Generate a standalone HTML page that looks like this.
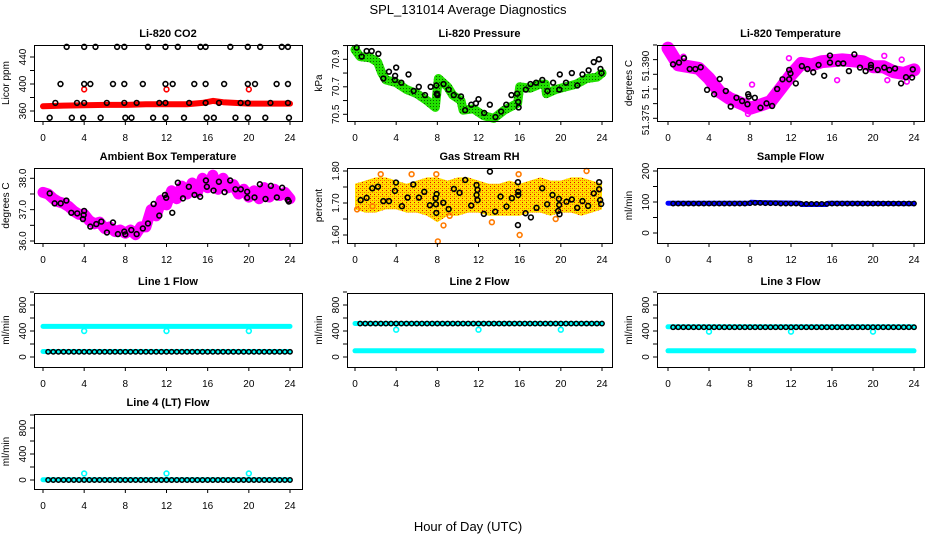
<!DOCTYPE html>
<html><head><meta charset="utf-8">
<style>
html,body{margin:0;padding:0;background:#fff;}
svg{display:block;font-family:"Liberation Sans",sans-serif;}
</style></head>
<body>
<svg id="chart" width="936" height="540" viewBox="0 0 936 540" xmlns="http://www.w3.org/2000/svg">
<defs>
<pattern id="rhpat" width="4" height="4" patternUnits="userSpaceOnUse">
<rect width="4" height="4" fill="#ffe000"/><rect x="0" y="0" width="1" height="1" fill="#ff6000"/><rect x="2" y="2" width="1" height="1" fill="#e00000"/><rect x="2" y="0" width="1" height="1" fill="#ff9000"/>
</pattern>
<pattern id="grpat" width="3" height="3" patternUnits="userSpaceOnUse">
<rect width="3" height="3" fill="#22e000"/><rect x="1" y="1" width="1" height="1" fill="#0a6000"/>
</pattern>
</defs>
<text x="468" y="14" text-anchor="middle" font-size="13">SPL_131014  Average Diagnostics</text>
<text x="468" y="531" text-anchor="middle" font-size="13">Hour of Day (UTC)</text>
<g id="plots"></g>
</svg>
<script>
// ---------- DATA ----------
const xTicks = [0,4,8,12,16,20,24];
const halfHours = [0.5,1,1.5,2,2.5,3,3.5,4,4.5,5,5.5,6,6.5,7,7.5,8,8.5,9,9.5,10,10.5,11,11.5,12,12.5,13,13.5,14,14.5,15,15.5,16,16.5,17,17.5,18,18.5,19,19.5,20,20.5,21,21.5,22,22.5,23,23.5,24];
const bandHours = [0,0.5,1,1.5,2,2.5,3,3.5,4,4.5,5,5.5,6,6.5,7,7.5,8,8.5,9,9.5,10,10.5,11,11.5,12,12.5,13,13.5,14,14.5,15,15.5,16,16.5,17,17.5,18,18.5,19,19.5,20,20.5,21,21.5,22,22.5,23,23.5,24];
const hourly = [0,1,2,3,4,5,6,7,8,9,10,11,12,13,14,15,16,17,18,19,20,21,22,23,24];
const calHours = [4,12,20];

// CO2
const co2BandHours = [0,2,4,6,8,10,12,14,15.5,16.5,17.5,20,24];
const co2BandVals = [367,368,368.5,369,369,370,370,370,372,375,373,371,371];
const co2Hours = [2.3,4.0,5.1,7.2,7.9,10.2,11.9,13.1,15.3,15.8,18.2,19.9,21.1,23.2,23.8,
 1.7,4.0,4.6,6.8,7.9,9.7,11.9,12.6,14.7,15.8,17.6,19.9,20.6,22.7,23.8,
 1.2,3.3,4.0,6.2,7.9,9.1,11.3,11.9,14.2,15.8,17.1,19.2,19.9,22.1,23.8,
 0.65,2.8,3.9,5.6,8.0,8.6,10.7,11.9,13.7,15.9,16.6,18.7,19.9,21.6,23.9];
const co2Vals = [455,455,455,455,455,455,455,455,455,455,455,455,455,455,455,
 400,400,400,400,400,400,400,400,400,400,400,400,400,400,400,
 372,372,372,372,372,372,372,372,372,372,372,372,372,372,372,
 350,350,350,350,350,350,350,350,350,350,350,350,350,350,350];
const co2CalVals = [392,392,392];

// Pressure
const presBandHours = [0,0.5,1.5,2.2,2.6,3,4,5,6,7,7.8,8.1,9,9.5,10.3,10.5,11.5,12.5,13.5,14.5,15.8,16,17,18,18.5,18.6,19.5,20.5,21.5,22.5,23.5,24];
const presBandVals = [70.97,70.92,70.91,70.88,70.80,70.75,70.73,70.68,70.65,70.60,70.55,70.76,70.70,70.64,70.60,70.53,70.54,70.49,70.47,70.53,70.58,70.70,70.69,70.72,70.72,70.65,70.68,70.70,70.72,70.76,70.77,70.80];
const presHours = [0.16,0.65,1.13,1.62,2.27,2.75,3.3,3.88,4.0,3.9,4.5,5.2,5.7,6.2,6.8,7.35,7.9,7.95,8.0,8.6,9.1,9.6,10.3,10.7,11.3,11.75,12.0,12.55,13.1,13.65,14.2,14.7,15.2,15.75,15.85,15.9,16.6,17.05,17.6,18.2,18.7,19.25,19.85,19.9,20.5,21.07,21.6,22.1,22.7,23.2,23.7,23.85,23.95];
const presVals = [70.985,70.92,70.96,70.96,70.94,70.76,70.81,70.75,70.84,70.78,70.73,70.79,70.67,70.70,70.64,70.70,70.71,70.65,70.64,70.72,70.68,70.64,70.63,70.53,70.57,70.58,70.61,70.51,70.57,70.48,70.52,70.57,70.64,70.65,70.59,70.55,70.68,70.72,70.73,70.75,70.67,70.73,70.68,70.79,70.73,70.80,70.71,70.79,70.82,70.88,70.90,70.83,70.80];

// Li-820 temperature
const tempBandHours = [0,1,3,4,5,6,7.5,8,9,10,11,12,13,14,15,17,19,20,21,22,23,24];
const tempBandVals = [51.3989,51.3932,51.3920,51.3886,51.3841,51.3818,51.3795,51.3784,51.3795,51.3807,51.3852,51.3898,51.3937,51.3932,51.3943,51.3949,51.3943,51.3926,51.3926,51.3909,51.3903,51.3915];
const tempOutHours = [0,7.8,11.8,21.1,21.4,22.8,8.2,1.5,16.5,23.3];
const tempOutVals = [51.3995,51.3765,51.3955,51.3963,51.3880,51.3950,51.3865,51.3960,51.3880,51.3875];
const tempHours = [0.49,1.07,1.56,2.12,2.67,3.19,3.81,4.5,5.05,5.64,6.12,6.68,7.23,7.75,7.82,7.88,8.47,9.02,9.61,10.16,10.65,11.17,11.82,11.82,11.95,12.47,13.06,13.6,14.17,14.69,15.24,15.8,15.8,16.6,17.1,17.65,18.18,18.73,19.28,19.8,19.8,20.46,21.1,21.6,22.15,22.74,23.22,23.81,23.88];
const tempVals = [51.3934,51.3940,51.3955,51.3918,51.3918,51.3924,51.3847,51.3832,51.3884,51.3843,51.3790,51.3820,51.3809,51.3798,51.3832,51.3824,51.3820,51.3786,51.3801,51.3792,51.3850,51.3883,51.3883,51.3915,51.3903,51.3869,51.3928,51.3918,51.3907,51.3932,51.3895,51.3940,51.3964,51.3937,51.3937,51.3911,51.3968,51.3923,51.3911,51.3923,51.3932,51.3915,51.3923,51.3915,51.3920,51.3869,51.3890,51.3889,51.3917];

// Ambient box temperature
const ambBandVals = [37.55,37.5,37.35,37.25,37.2,37.1,36.95,36.85,36.85,36.65,36.55,36.6,36.4,36.45,36.3,36.35,36.25,36.35,36.2,36.45,36.45,37.0,36.8,37.3,37.15,37.6,37.35,37.75,37.5,37.85,37.55,38.0,37.7,38.1,37.65,38.0,37.7,37.8,37.5,37.65,37.4,37.6,37.35,37.7,37.4,37.65,37.45,37.55,37.35];
const ambHours = [0.65,1.13,1.72,2.27,2.75,3.33,3.88,3.95,4.0,4.6,5.18,5.67,6.21,6.8,7.28,7.9,8.0,8.58,9.1,9.7,10.2,10.75,11.3,11.85,11.97,12.56,13.1,13.6,14.17,14.72,15.27,15.83,15.92,16.57,17.09,17.64,18.19,18.7,19.22,19.84,19.84,20.55,21.07,21.62,22.14,22.72,23.24,23.79,23.88];
const ambVals = [37.52,37.20,37.20,37.29,36.90,36.88,36.70,36.83,36.96,36.46,36.54,36.62,36.27,36.59,36.22,36.30,36.21,36.35,36.22,36.40,36.56,37.18,36.81,37.47,37.38,36.90,37.86,37.36,37.73,37.47,37.41,37.93,37.73,37.61,37.89,37.56,37.93,37.65,37.65,37.57,37.38,37.39,37.81,37.34,37.76,37.39,37.70,37.31,37.26];

// Gas stream RH
const rhUpper = [1.76,1.77,1.78,1.78,1.77,1.76,1.77,1.78,1.78,1.77,1.78,1.78,1.77,1.76,1.76,1.77,1.76,1.77,1.78,1.77,1.77,1.78,1.78,1.77,1.76];
const rhLower = [1.68,1.67,1.67,1.68,1.68,1.67,1.67,1.66,1.64,1.66,1.66,1.67,1.67,1.66,1.66,1.66,1.66,1.67,1.67,1.66,1.67,1.67,1.66,1.67,1.68];
const rhOutHours = [8.05,8.6,9.2,13.3,16.0,22.5,19.5,0.2,1.7,2.5,5.5,7.9,15.9];
const rhOutVals = [1.58,1.63,1.66,1.64,1.60,1.80,1.65,1.68,1.69,1.79,1.79,1.79,1.79];
const rhHours = [0.55,1.13,1.68,2.23,2.75,3.3,3.88,3.98,4.56,5.11,5.66,6.21,6.73,7.28,7.83,7.86,7.93,7.9,8.58,9.1,9.61,10.16,10.71,11.29,11.81,11.81,11.91,11.91,12.52,13.11,13.62,14.14,14.72,15.24,15.83,15.83,15.86,15.86,16.57,17.09,17.64,18.19,18.67,19.19,19.74,19.81,19.84,19.87,20.55,21.07,21.59,22.1,22.65,23.2,23.72,23.72,23.82,23.92];
const rhVals = [1.709,1.716,1.746,1.751,1.706,1.706,1.738,1.764,1.690,1.717,1.758,1.717,1.735,1.693,1.715,1.696,1.728,1.669,1.701,1.681,1.744,1.732,1.772,1.692,1.725,1.756,1.741,1.709,1.666,1.798,1.673,1.720,1.689,1.715,1.631,1.765,1.735,1.725,1.668,1.655,1.685,1.746,1.696,1.725,1.675,1.713,1.694,1.665,1.704,1.711,1.685,1.706,1.691,1.730,1.765,1.743,1.709,1.697];

// Sample flow
const sampleBandHours = [0,8,8.1,9,12.9,13,15.5,15.6,24];
const sampleBandVals = [96,96,99,98,96,92,92,96,95];
const sampleVals = [95,95,95,95,95,95,95,95,95,95,95,95,95,95,95,96,97,97,96,96,96,95,95,95,95,94,94,94,94,94,94,95,95,95,95,95,95,95,95,95,95,95,95,95,95,95,95,95];

// Line flows
const line1High = [470,470];
const line1Low = [85,85];
const line1Cal = [400,400,400];
const line1Black = [80,80,80,80,80,80,80,80,80,80,80,80,80,80,80,80,80,80,80,80,80,80,80,80,80,80,80,80,80,80,80,80,80,80,80,80,80,80,80,80,80,80,80,80,80,80,80,80];
const line2High = [515,515];
const line2Low = [95,95];
const line2Cal = [420,420,420];
const line2Black = [515,515,515,515,515,515,515,515,515,515,515,515,515,515,515,515,515,515,515,515,515,515,515,515,515,515,515,515,515,515,515,515,515,515,515,515,515,515,515,515,515,515,515,515,515,515,515,515];
const line3High = [465,465];
const line3Low = [95,95];
const line3Cal = [390,390,390];
const line3Black = [458,458,458,458,458,458,458,458,458,458,458,458,458,458,458,458,458,458,458,458,458,458,458,458,458,458,458,458,458,458,458,458,458,458,458,458,458,458,458,458,458,458,458,458,458,458,458,458];
const line4Low = [5,5];
const line4Cal = [100,100,100];
const line4Black = [0,0,0,0,0,0,0,0,0,0,0,0,0,0,0,0,0,0,0,0,0,0,0,0,0,0,0,0,0,0,0,0,0,0,0,0,0,0,0,0,0,0,0,0,0,0,0,0];
const flowEnds = [0,24];

// ---------- DRAW ----------
const NS = "http://www.w3.org/2000/svg";
const root = document.getElementById('plots');
const COLS = [{l:34,r:302,x0:43,x24:290},{l:347,r:612,x0:355,x24:602},{l:657,r:924,x0:668,x24:914}];
const ROWS = [{t:45,b:121},{t:168,b:243},{t:293,b:367},{t:414,b:489}];
function mk(tag, attrs, parent){
  const e = document.createElementNS(NS, tag);
  for (const k in attrs) e.setAttribute(k, attrs[k]);
  (parent||root).appendChild(e);
  return e;
}
function panel(name, title, ylab, c, r, v1, y1, v2, y2, yticks, ylabels){
  const C = COLS[c], R = ROWS[r];
  const g = mk('g', {});
  
  
  const xs = h => C.x0 + h * (C.x24 - C.x0) / 24;
  const ys = v => y1 + (v - v1) * (y2 - y1) / (v2 - v1);
  const t = mk('text', {x:(C.l+C.r)/2, y:R.t-8, 'text-anchor':'middle', 'font-size':11, 'font-weight':'bold'}, g);
  t.textContent = title;
  
  
  const yl = mk('text', {x:0, y:0, transform:`translate(${C.l-25},${(R.t+R.b)/2}) rotate(-90)`, 'text-anchor':'middle', 'font-size':10}, g);
  yl.textContent = ylab;
  
  
  const plot = mk('g', {}, g);
  
  
  const axes = mk('g', {stroke:'#000', 'stroke-width':1, fill:'none'}, g);
  
  
  for (const h of xTicks){
    mk('line', {x1:xs(h), x2:xs(h), y1:R.b, y2:R.b+4}, axes);
    const tx = mk('text', {x:xs(h), y:R.b+20, 'text-anchor':'middle', 'font-size':10, fill:'#000', stroke:'none'}, g);
    tx.textContent = h;
    
    
  }
  for (const v of yticks) mk('line', {x1:C.l-4, x2:C.l, y1:ys(v), y2:ys(v)}, axes);
  for (const L of ylabels){
    const ty = mk('text', {x:0, y:0, transform:`translate(${C.l-8},${L.y!==undefined?L.y:ys(L.v)}) rotate(-90)`, 'text-anchor':'middle', 'font-size':10}, g);
    ty.textContent = L.s;
    
    
  }
  mk('rect', {x:C.l+0.5, y:R.t+0.5, width:C.r-C.l, height:R.b-R.t}, axes);
  return {plot, xs, ys, C, R};
}
function band(P, hs, vs, color, w, nm){
  const pts = hs.map((h,i)=>P.xs(h).toFixed(1)+','+P.ys(vs[i]).toFixed(1)).join(' ');
  const pl = mk('polyline', {points:pts, fill:'none', stroke:color, 'stroke-width':w, 'stroke-linejoin':'round', 'stroke-linecap':'round'}, P.plot);
  
  
}
function pts(P, hs, vs, color, nm, rr, sw){
  for (let i=0;i<hs.length;i++){
    const c = mk('circle', {cx:P.xs(hs[i]), cy:P.ys(vs[i]), r:rr||2.4, fill:'none', stroke:color, 'stroke-width':sw||1.6}, P.plot);
    
    
  }
}
const lab = (arr) => arr.map(v=>({v:v, s:String(v)}));

// CO2
let P = panel('co2','Li-820 CO2','Licor ppm',0,0,360,111,440,57,[360,380,400,420,440],lab([360,400,440]));
band(P, co2BandHours, co2BandVals, '#ff0000', 6, 'co2-band');
pts(P, calHours, co2CalVals, '#ff0000', 'co2-cal-point');
pts(P, co2Hours, co2Vals, '#000', 'co2-point');

// Pressure
P = panel('pressure','Li-820 Pressure','kPa',1,0,70.9,59.3,70.5,114.3,[70.5,70.6,70.7,70.8,70.9,71.0],[{v:70.5,s:'70.5'},{v:70.7,s:'70.7'},{v:70.9,s:'70.9'}]);
band(P, presBandHours, presBandVals, 'url(#grpat)', 9, 'pressure-band');
pts(P, presHours, presVals, '#000', 'pressure-point');

// Temperature
P = panel('li820-temp','Li-820 Temperature','degrees C',2,0,51.390,74.3,51.375,118.3,[51.375,51.380,51.385,51.390,51.395,51.400],[{y:120,s:'51.375'},{y:92,s:'51.'},{y:66,s:'51.390'}]);
band(P, tempBandHours, tempBandVals, '#ff00ff', 13, 'li820-temp-band');
pts(P, tempOutHours, tempOutVals, '#ff00ff', 'li820-temp-outlier');
pts(P, tempHours, tempVals, '#000', 'li820-temp-point');

// Ambient
P = panel('ambient','Ambient Box Temperature','degrees C',0,1,38,178.3,36,241,[36,36.5,37,37.5,38],[{v:36,s:'36.0'},{v:37,s:'37.0'},{v:38,s:'38.0'}]);
band(P, bandHours, ambBandVals, '#ff00ff', 11, 'ambient-band');
pts(P, ambHours, ambVals, '#000', 'ambient-point');

// RH
P = panel('rh','Gas Stream RH','percent',1,1,1.80,171,1.60,235,[1.60,1.65,1.70,1.75,1.80],[{v:1.6,s:'1.60'},{v:1.7,s:'1.70'},{v:1.8,s:'1.80'}]);
{
  const up = hourly.map((h,i)=>P.xs(h).toFixed(1)+','+P.ys(rhUpper[i]).toFixed(1));
  const lo = hourly.map((h,i)=>P.xs(h).toFixed(1)+','+P.ys(rhLower[i]).toFixed(1)).reverse();
  const pg = mk('polygon', {points:up.concat(lo).join(' '), fill:'url(#rhpat)', stroke:'none'}, P.plot);
  
  
}
pts(P, rhOutHours, rhOutVals, '#ff7a00', 'rh-outlier');
pts(P, rhHours, rhVals, '#000', 'rh-point');

// Sample flow
P = panel('sample-flow','Sample Flow','ml/min',2,1,200,171,0,233,[0,50,100,150,200],lab([0,100,200]));
band(P, sampleBandHours, sampleBandVals, '#0000ff', 5, 'sample-flow-band');
pts(P, halfHours, sampleVals, '#000', 'sample-flow-point', 2.2, 1.4);

// Line flows
const lineTicks = [0,200,400,600,800,1000];
function flowPanel(name, title, c, r, y0, high, low, cal, black){
  const Q = panel(name, title, 'ml/min', c, r, 0, y0, 800, y0-52, lineTicks, lab([0,400,800]));
  if (high) band(Q, flowEnds, high, '#00ffff', 5, name+'-high-band');
  band(Q, flowEnds, low, '#00ffff', 5, name+'-low-band');
  pts(Q, calHours, cal, '#00ffff', name+'-cal-point');
  pts(Q, halfHours, black, '#000', name+'-point', 2.2, 1.5);
}
flowPanel('line1-flow','Line 1 Flow',0,2,357,line1High,line1Low,line1Cal,line1Black);
flowPanel('line2-flow','Line 2 Flow',1,2,357,line2High,line2Low,line2Cal,line2Black);
flowPanel('line3-flow','Line 3 Flow',2,2,357,line3High,line3Low,line3Cal,line3Black);
flowPanel('line4-flow','Line 4 (LT) Flow',0,3,480,null,line4Low,line4Cal,line4Black);
</script>
</body></html>
